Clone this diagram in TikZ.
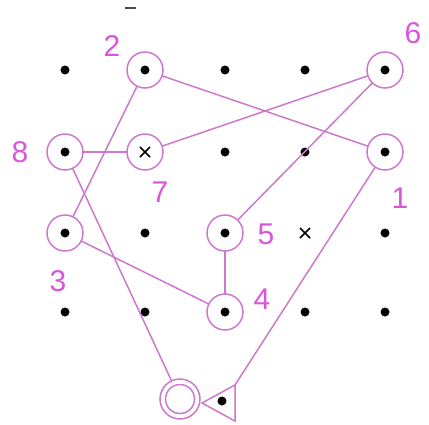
\documentclass[tikz,border=0pt]{standalone}
\usepackage{fontspec}
\setmainfont{Liberation Sans}
\usetikzlibrary{calc}
\begin{document}
\begin{tikzpicture}[x=1pt,y=-1pt,
  every node/.style={inner sep=0pt,outer sep=0pt},
  dotn/.style={circle,fill=black,minimum size=9pt},
  ring/.style={circle,draw=linemag,line width=1.5pt,minimum size=36pt},
  lbl/.style={text=labmag,font=\fontsize{30}{30}\selectfont},
  link/.style={draw=linemag,line width=1.5pt}]
\definecolor{linemag}{RGB}{205,120,205}
\definecolor{labmag}{RGB}{218,85,218}
\useasboundingbox (0,0) rectangle (429,424);
% grid dots
\foreach \x/\i in {65/1,145/2,225/3,305/4,385/5}{
  \foreach \y/\j in {70/1,152/2,233/3,312/4}{
    \coordinate (g\i\j) at (\x,\y);
  }
}
\foreach \c in {g11,g31,g41,g21,g51,g12,g32,g42,g52,g13,g23,g33,g53,g14,g24,g34,g44,g54}{
  \node[dotn] at (\c) {};
}
% ringed points
\node[ring] (n2) at (g21) {};
\node[ring] (n6) at (g51) {};
\node[ring] (n8) at (g12) {};
\node[ring] (n7) at (g22) {};
\node[ring] (n1) at (g52) {};
\node[ring] (n3) at (g13) {};
\node[ring] (n5) at (g33) {};
\node[ring] (n4) at (g34) {};
% cross marks
\draw[black,line width=1.7pt] ($(g22)+(-5,-5)$) -- ($(g22)+(5,5)$) ($(g22)+(-5,5)$) -- ($(g22)+(5,-5)$);
\draw[black,line width=1.7pt] ($(g43)+(-5,-5)$) -- ($(g43)+(5,5)$) ($(g43)+(-5,5)$) -- ($(g43)+(5,-5)$);
% bottom symbols
\node[circle,draw=linemag,line width=1.5pt,minimum size=40pt] (dc) at (180,399) {};
\node[circle,draw=linemag,line width=1.5pt,minimum size=29pt] (dci) at (180,399) {};
\coordinate (tt) at (235,385);
\coordinate (tl) at (202,403);
\coordinate (tb) at (235,421);
\draw[linemag,line width=1.5pt,line join=miter] (tt) -- (tl) -- (tb) -- cycle;
\node[dotn] (bd) at (222,401) {};
% connectors
\path[link] (n2) -- (n1);
\path[link] (n6) -- (n7);
\path[link] (n6) -- (n5);
\path[link] (n8) -- (n7);
\path[link] (n2) -- (n3);
\path[link] (n3) -- (n4);
\path[link] (n5) -- (n4);
\path[link] (n8) -- (dc);
\path[link] (n1) -- (tt);
% labels
\node[lbl] (l2) at (112,46) {2};
\node[lbl] (l6) at (413,33) {6};
\node[lbl] (l8) at (20,152) {8};
\node[lbl] (l7) at (160,192) {7};
\node[lbl] (l1) at (400,198) {1};
\node[lbl] (l5) at (266,234) {5};
\node[lbl] (l3) at (58,281) {3};
\node[lbl] (l4) at (262,299) {4};
% small mark at top
\draw[black!70,line width=1.5pt] (125,8) -- (136,8);
\end{tikzpicture}
\end{document}
